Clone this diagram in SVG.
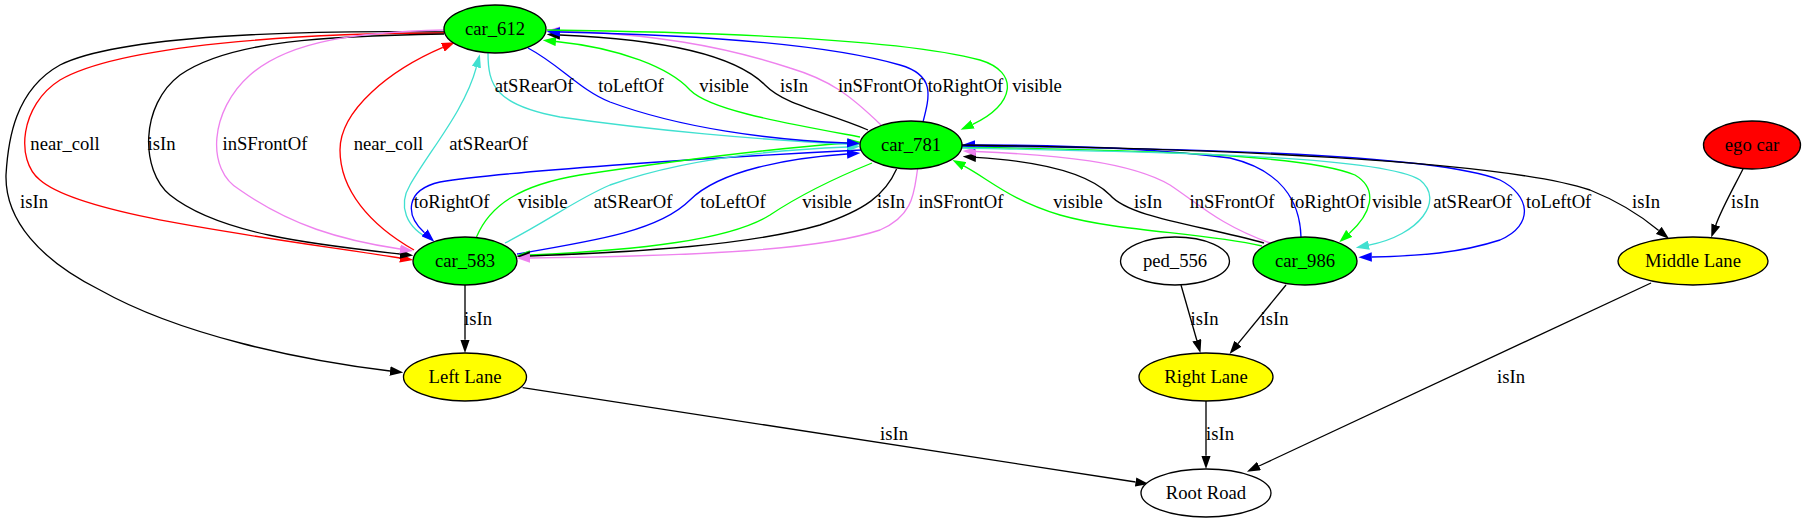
<svg xmlns="http://www.w3.org/2000/svg" width="1806" height="523" viewBox="0 0 1806 523">
<style>
text{font-family:"Liberation Serif","Times New Roman",serif;font-size:18.67px;text-anchor:middle;fill:#000}
.e{fill:none;stroke-width:1.33}
.k{stroke:#000}.r{stroke:#f00}.b{stroke:#00f}.g{stroke:#0f0}.v{stroke:#ee82ee}.t{stroke:#40e0d0}
.n ellipse{stroke:#000;stroke-width:1.33}
</style>
<defs>
<marker id="ak" viewBox="0 0 10 7" markerWidth="13.33" markerHeight="9.33" markerUnits="userSpaceOnUse" refX="0" refY="3.5" orient="auto"><path d="M0,0L10,3.5L0,7z" fill="#000"/></marker>
<marker id="ar" viewBox="0 0 10 7" markerWidth="13.33" markerHeight="9.33" markerUnits="userSpaceOnUse" refX="0" refY="3.5" orient="auto"><path d="M0,0L10,3.5L0,7z" fill="#f00"/></marker>
<marker id="ab" viewBox="0 0 10 7" markerWidth="13.33" markerHeight="9.33" markerUnits="userSpaceOnUse" refX="0" refY="3.5" orient="auto"><path d="M0,0L10,3.5L0,7z" fill="#00f"/></marker>
<marker id="ag" viewBox="0 0 10 7" markerWidth="13.33" markerHeight="9.33" markerUnits="userSpaceOnUse" refX="0" refY="3.5" orient="auto"><path d="M0,0L10,3.5L0,7z" fill="#0f0"/></marker>
<marker id="av" viewBox="0 0 10 7" markerWidth="13.33" markerHeight="9.33" markerUnits="userSpaceOnUse" refX="0" refY="3.5" orient="auto"><path d="M0,0L10,3.5L0,7z" fill="#ee82ee"/></marker>
<marker id="at" viewBox="0 0 10 7" markerWidth="13.33" markerHeight="9.33" markerUnits="userSpaceOnUse" refX="0" refY="3.5" orient="auto"><path d="M0,0L10,3.5L0,7z" fill="#40e0d0"/></marker>
</defs>
<rect width="1806" height="523" fill="#fff"/>
<g id="connectors">
<path class="e k" marker-end="url(#ak)" d="M444,32 C300,30 120,35 60,65 C15,90 8,140 6,175 C5,220 40,260 100,290 C180,335 300,360 390,371"/>
<path class="e r" marker-end="url(#ar)" d="M444,33 C300,33 120,45 60,80 C20,105 15,160 40,180 C80,215 250,235 400,258"/>
<path class="e k" marker-end="url(#ak)" d="M444,34 C330,36 230,40 180,75 C140,105 140,170 170,195 C220,235 320,245 400,254"/>
<path class="e v" marker-end="url(#av)" d="M444,30 C360,32 290,40 250,75 C210,110 205,170 240,190 C290,225 340,240 400,249"/>
<path class="e r" marker-end="url(#ar)" d="M414,250 C370,225 340,190 340,150 C340,110 390,70 442.8,47.4"/>
<path class="e t" marker-end="url(#at)" d="M432,240 C405,228 398,205 410,185 C430,150 465,110 476.4,67.2"/>
<path class="e b" marker-end="url(#ab)" d="M861,150 C700,158 500,172 440,182 C405,190 405,215 424.5,232.8"/>
<path class="e g" marker-end="url(#ag)" d="M476.5,237 C490,205 520,185 580,175 C680,160 780,148 848,143"/>
<path class="e t" marker-end="url(#at)" d="M505,243 C550,220 575,200 610,185 C680,160 770,150 847,147"/>
<path class="e b" marker-end="url(#ab)" d="M517,254 C600,240 660,230 690,200 C720,170 790,158 847,154"/>
<path class="e g" marker-end="url(#ag)" d="M872,163 C830,180 800,195 770,215 C730,240 640,250 530,255"/>
<path class="e k" marker-end="url(#ak)" d="M896.6,169 C885,195 865,210 820,225 C750,245 640,252 530,256"/>
<path class="e v" marker-end="url(#av)" d="M917.6,169 C914,190 915,215 880,230 C820,250 700,256 530,258"/>
<path class="e t" marker-end="url(#at)" d="M488,53 C488,85 495,105 560,117 C650,130 760,140 847,144"/>
<path class="e b" marker-end="url(#ab)" d="M528,48 C560,65 580,90 610,102 C680,128 770,140 847,143"/>
<path class="e g" marker-end="url(#ag)" d="M860,137 C780,122 710,110 690,90 C670,68 620,48 556,41.5"/>
<path class="e k" marker-end="url(#ak)" d="M868,130 C820,110 785,105 765,85 C740,60 680,40 560,35"/>
<path class="e v" marker-end="url(#av)" d="M881,125 C850,95 830,80 790,68 C720,45 650,34 560,31"/>
<path class="e b" marker-end="url(#ab)" d="M923,122 C930,95 935,75 900,65 C830,45 700,35 560,32"/>
<path class="e g" marker-end="url(#ag)" d="M547,30 C700,32 900,38 980,60 C1020,72 1015,105 972.7,124.3"/>
<path class="e g" marker-end="url(#ag)" d="M1262,246 C1200,232 1120,232 1060,215 C1010,200 990,180 964.2,166.2"/>
<path class="e k" marker-end="url(#ak)" d="M1264,243 C1200,225 1130,218 1110,195 C1090,175 1050,162 976,157.4"/>
<path class="e v" marker-end="url(#av)" d="M1270,243 C1220,225 1200,205 1170,185 C1130,162 1060,155 976,151.5"/>
<path class="e b" marker-end="url(#ab)" d="M1301,237 C1300,200 1280,170 1230,158 C1150,148 1060,145 975,145"/>
<path class="e g" marker-end="url(#ag)" d="M962,147 C1100,150 1300,152 1355,175 C1380,190 1370,215 1349.2,233.4"/>
<path class="e t" marker-end="url(#at)" d="M962,148 C1150,152 1380,155 1420,180 C1445,200 1420,235 1368.9,245.1"/>
<path class="e b" marker-end="url(#ab)" d="M962,146 C1150,148 1430,152 1500,180 C1530,195 1535,225 1500,240 C1460,253 1420,256 1371.8,257"/>
<path class="e k" marker-end="url(#ak)" d="M962,145 C1200,148 1500,160 1590,190 C1620,202 1640,215 1658.7,230.4"/>
<path class="e k" marker-end="url(#ak)" d="M1743,169 C1735,185 1722,208 1715.8,225"/>
<path class="e k" marker-end="url(#ak)" d="M465,285 L465,339.7"/>
<path class="e k" marker-end="url(#ak)" d="M522.6,387.7 L1135.6,482"/>
<path class="e k" marker-end="url(#ak)" d="M1181,285 L1196.8,340.2"/>
<path class="e k" marker-end="url(#ak)" d="M1286,285 L1238,343.7"/>
<path class="e k" marker-end="url(#ak)" d="M1206,401 L1206,455.7"/>
<path class="e k" marker-end="url(#ak)" d="M1651,283 L1259,466"/>
<g id="edge-labels">
<text x="534" y="92">atSRearOf</text>
<text x="631" y="92">toLeftOf</text>
<text x="724" y="92">visible</text>
<text x="794" y="92">isIn</text>
<text x="880.5" y="92">inSFrontOf</text>
<text x="965.5" y="92">toRightOf</text>
<text x="1037" y="92">visible</text>
<text x="65" y="150">near_coll</text>
<text x="161.5" y="150">isIn</text>
<text x="265" y="150">inSFrontOf</text>
<text x="388.4" y="150">near_coll</text>
<text x="488.7" y="150">atSRearOf</text>
<text x="34" y="208">isIn</text>
<text x="451.6" y="208">toRightOf</text>
<text x="542.7" y="208">visible</text>
<text x="633" y="208">atSRearOf</text>
<text x="733" y="208">toLeftOf</text>
<text x="827" y="208">visible</text>
<text x="891" y="208">isIn</text>
<text x="961" y="208">inSFrontOf</text>
<text x="1078" y="208">visible</text>
<text x="1148" y="208">isIn</text>
<text x="1232" y="208">inSFrontOf</text>
<text x="1327.6" y="208">toRightOf</text>
<text x="1397" y="208">visible</text>
<text x="1472.5" y="208">atSRearOf</text>
<text x="1558.7" y="208">toLeftOf</text>
<text x="1646" y="208">isIn</text>
<text x="1745" y="208">isIn</text>
<text x="478" y="325">isIn</text>
<text x="1204.5" y="325">isIn</text>
<text x="1274.5" y="325">isIn</text>
<text x="894" y="440">isIn</text>
<text x="1220" y="440">isIn</text>
<text x="1511" y="383">isIn</text>
</g>
</g>
<g id="car_612" class="n"><ellipse cx="495" cy="29" rx="51" ry="24" fill="#0f0"/><text x="495" y="35">car_612</text></g>
<g id="car_781" class="n"><ellipse cx="911" cy="145" rx="51" ry="24" fill="#0f0"/><text x="911" y="151">car_781</text></g>
<g id="ego_car" class="n"><ellipse cx="1752" cy="145" rx="48.5" ry="24" fill="#f00"/><text x="1752" y="151">ego car</text></g>
<g id="car_583" class="n"><ellipse cx="465" cy="261" rx="52" ry="24" fill="#0f0"/><text x="465" y="267">car_583</text></g>
<g id="ped_556" class="n"><ellipse cx="1175" cy="261" rx="54.5" ry="24" fill="#fff"/><text x="1175" y="267">ped_556</text></g>
<g id="car_986" class="n"><ellipse cx="1305" cy="261" rx="52" ry="24" fill="#0f0"/><text x="1305" y="267">car_986</text></g>
<g id="middle_lane" class="n"><ellipse cx="1693" cy="261" rx="75" ry="24" fill="#ff0"/><text x="1693" y="267">Middle Lane</text></g>
<g id="left_lane" class="n"><ellipse cx="465" cy="377" rx="61.5" ry="24" fill="#ff0"/><text x="465" y="383">Left Lane</text></g>
<g id="right_lane" class="n"><ellipse cx="1206" cy="377" rx="67" ry="24" fill="#ff0"/><text x="1206" y="383">Right Lane</text></g>
<g id="root_road" class="n"><ellipse cx="1206" cy="493" rx="65" ry="24" fill="#fff"/><text x="1206" y="499">Root Road</text></g>
</svg>
